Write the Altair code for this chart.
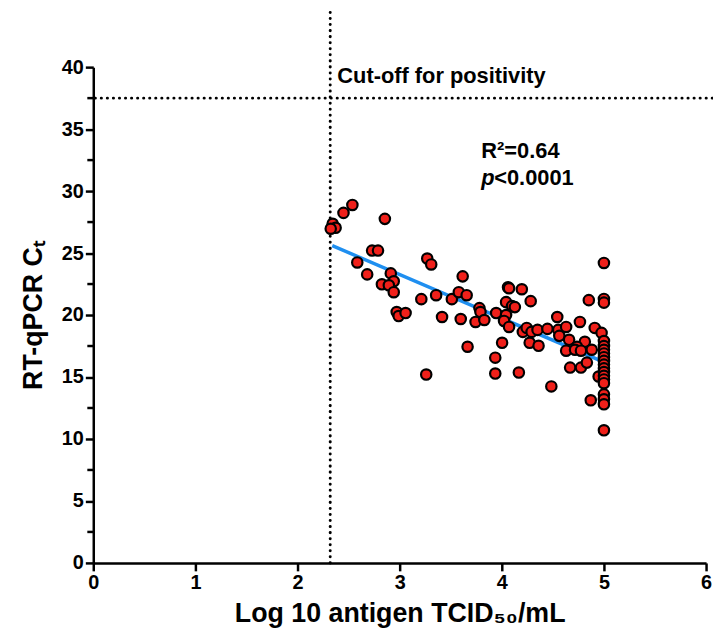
import altair as alt
import pandas as pd

# ---- data ----
antigen_log = [2.344, 2.373, 2.325, 2.450, 2.537, 2.855, 2.730, 2.788, 2.585, 2.682,
               2.913, 2.942, 2.826, 2.894, 2.942, 2.971, 2.990, 3.058, 3.212, 3.270,
               3.309, 3.357, 3.415, 3.260, 3.511, 3.617, 3.579, 3.656, 3.598, 3.781,
               3.791, 3.743, 3.829, 3.665, 3.945, 4.061, 4.071, 4.196, 4.042, 4.100,
               4.128, 4.283, 4.042, 4.022, 4.071, 4.003, 3.936, 3.936, 4.167, 4.206,
               4.244, 4.292, 4.350, 4.273, 4.360, 4.447, 4.543, 4.553, 4.563, 4.630,
               4.630, 4.659, 4.669, 4.775, 4.485, 4.852, 4.765, 4.910, 4.977, 4.813,
               4.736, 4.717, 4.775, 4.881, 4.833, 4.948, 4.871,
               5.0, 5.0, 5.0, 5.0, 5.0, 5.0, 5.0, 5.0, 5.0, 5.0,
               5.0, 5.0, 5.0, 5.0, 5.0, 5.0, 5.0, 5.0, 5.0]
ct_values = [27.36, 27.04, 26.96, 28.24, 28.88, 27.76, 25.2, 25.2, 24.24, 23.28,
             23.36, 22.72, 22.48, 22.4, 21.84, 20.24, 19.92, 20.16, 21.28, 24.56,
             24.08, 21.6, 19.84, 15.2, 21.28, 23.12, 21.84, 21.6, 19.68, 20.56,
             20.24, 19.44, 19.6, 17.44, 20.16, 22.24, 22.16, 22.08, 21.04, 20.72,
             20.64, 21.12, 20.0, 19.52, 19.04, 17.76, 16.56, 15.28, 15.36, 18.64,
             18.96, 18.64, 18.8, 17.76, 17.52, 18.88, 19.84, 18.8, 18.32, 19.04,
             17.12, 18.0, 15.76, 15.76, 14.24, 21.2, 19.44, 18.96, 18.56, 17.84,
             17.44, 17.2, 17.12, 17.2, 16.16, 15.04, 13.12,
             24.2, 21.3, 21.0, 17.9, 17.5, 17.2, 16.9, 16.6, 16.3, 16.0,
             15.7, 15.4, 15.1, 14.8, 14.5, 13.6, 13.2, 12.8, 10.7]

fit_x = [2.34, 5.0]
fit_y = [25.6, 16.2]

cutoff_ct = [37.5]
cutoff_log = [2.32]

y_major = [0, 5, 10, 15, 20, 25, 30, 35, 40]
y_minor = [2.5, 7.5, 12.5, 17.5, 22.5, 27.5, 32.5, 37.5]
x_major = [0, 1, 2, 3, 4, 5, 6]

note_cut = ["Cut-off for positivity"]
note_cut_pos = [(2.39, 38.7)]
note_r2 = ["R²=0.64"]
note_r2_pos = [(3.8, 32.7)]
note_p_italic = ["p"]
note_p_rest = ["<0.0001"]
note_p_pos = [(3.8, 30.5)]

FONT = "Liberation Sans"
W, H = 618, 500

pts = pd.DataFrame({"x": antigen_log, "y": ct_values})
fit = pd.DataFrame({"x": fit_x, "y": fit_y})

xs = alt.Scale(domain=[0, 6], nice=False)
ys = alt.Scale(domain=[0, 40], nice=False)

x_axis = alt.Axis(values=x_major, format="d", title="Log 10 antigen TCID₅₀/mL", grid=False,
                  domainColor="black", domainWidth=2.5, tickColor="black",
                  tickWidth=2.5, tickSize=8, labelPadding=2, labelFont=FONT,
                  labelFontSize=20, labelFontWeight="bold", labelColor="black",
                  titleFont=FONT, titleFontSize=27, titleFontWeight="bold",
                  titleColor="black", titlePadding=8, labelFlush=False)
y_axis = alt.Axis(values=y_major, format="d", title="RT-qPCR Cₜ", grid=False,
                  domainColor="black", domainWidth=2.5, tickColor="black",
                  tickWidth=2.5, tickSize=8, labelPadding=2, labelFont=FONT,
                  labelFontSize=20, labelFontWeight="bold", labelColor="black",
                  titleFont=FONT, titleFontSize=27, titleFontWeight="bold",
                  titleColor="black", titlePadding=14, labelFlush=False)

base_pts = alt.Chart(pts).mark_point(
    filled=True, fill="#f0201a", stroke="black", strokeWidth=2.2, size=110,
    shape="circle", opacity=1
).encode(
    x=alt.X("x:Q", scale=xs, axis=x_axis),
    y=alt.Y("y:Q", scale=ys, axis=y_axis),
)

fit_line = alt.Chart(fit).mark_line(color="#1f8ff0", strokeWidth=3.5).encode(
    x=alt.X("x:Q", scale=xs), y=alt.Y("y:Q", scale=ys)
)

minor = alt.Chart(pd.DataFrame({"v": y_minor})).mark_rule(
    color="black", strokeWidth=2.5
).encode(
    y=alt.Y("v:Q", scale=ys), x=alt.value(-6), x2=alt.value(0)
)

hline = alt.Chart(pd.DataFrame({"c": cutoff_ct})).mark_rule(
    color="black", strokeWidth=3, strokeDash=[0.1, 6.0], strokeCap="round"
).encode(
    y=alt.Y("c:Q", scale=ys), x=alt.value(2), x2=alt.value(W + 8)
)

vline = alt.Chart(pd.DataFrame({"c": cutoff_log})).mark_rule(
    color="black", strokeWidth=3, strokeDash=[0.1, 6.0], strokeCap="round"
).encode(
    x=alt.X("c:Q", scale=xs), y=alt.value(H), y2=alt.value(-56)
)

def note(texts, pos, italic=False, dx=0):
    df = pd.DataFrame({"t": texts, "x": [p[0] for p in pos], "y": [p[1] for p in pos]})
    return alt.Chart(df).mark_text(
        align="left", baseline="alphabetic", font=FONT, fontSize=22,
        fontWeight="bold", fontStyle="italic" if italic else "normal",
        color="black", dx=dx
    ).encode(x=alt.X("x:Q", scale=xs), y=alt.Y("y:Q", scale=ys), text="t:N")

chart = alt.layer(
    hline, vline, fit_line, base_pts, minor,
    note(note_cut, note_cut_pos),
    note(note_r2, note_r2_pos),
    note(note_p_italic, note_p_pos, italic=True),
    note(note_p_rest, note_p_pos, dx=13),
).properties(
    width=W, height=H,
    autosize=alt.AutoSizeParams(type="none"),
    padding={"left": 86, "top": 57, "right": 7, "bottom": 64},
).configure_view(stroke=None)

chart.save("out.html", embed_options={"renderer": "svg", "actions": False})
